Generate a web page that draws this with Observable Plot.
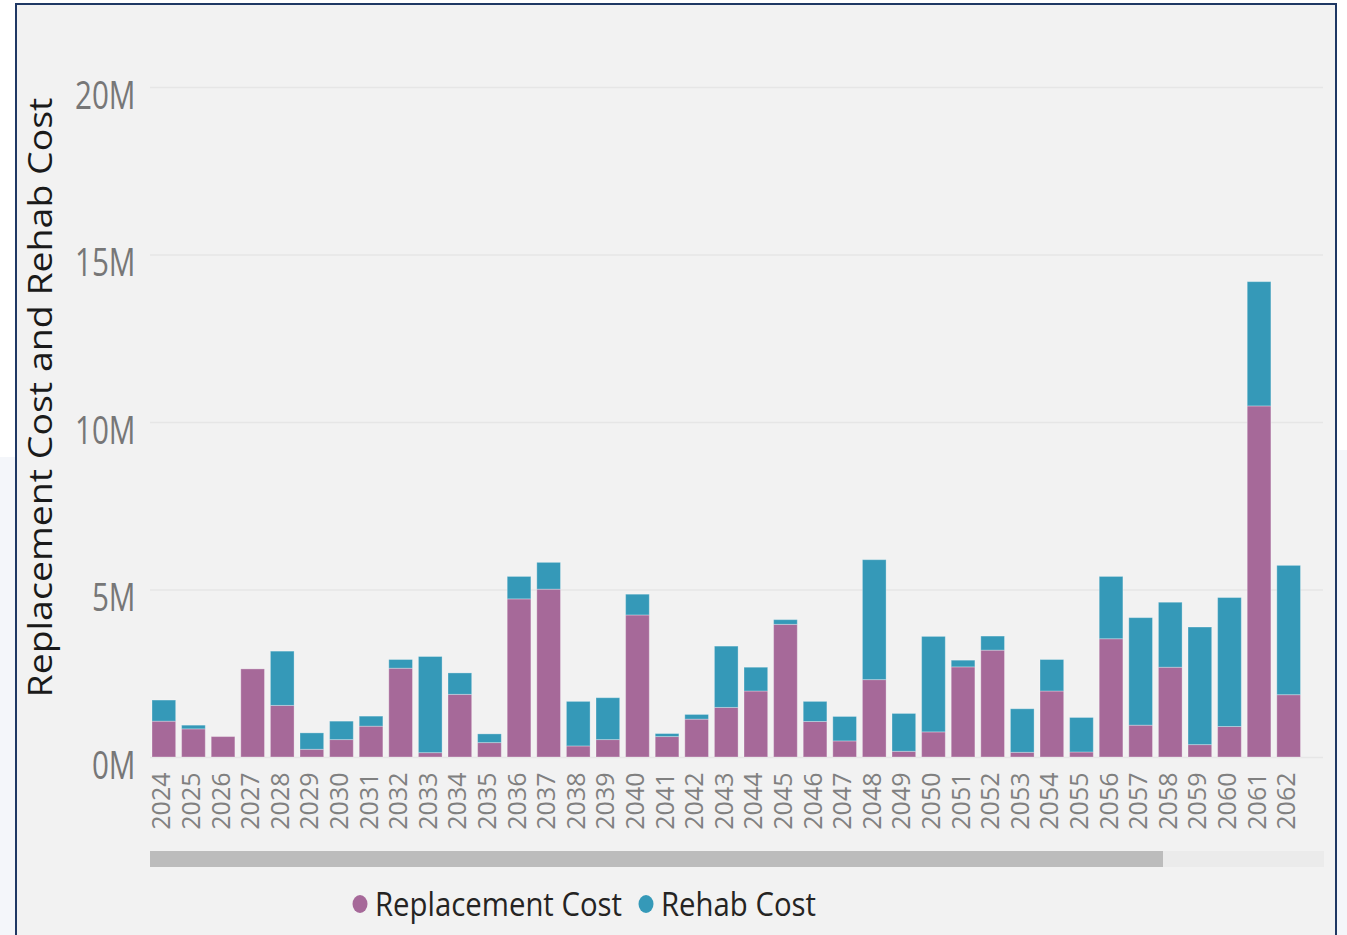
<!DOCTYPE html>
<html>
<head>
<meta charset="utf-8">
<script src="https://cdn.jsdelivr.net/npm/d3@7"></script>
<script src="https://cdn.jsdelivr.net/npm/@observablehq/plot@0.6"></script>
<style>
html, body { margin: 0; padding: 0; width: 1347px; height: 935px; overflow: hidden; background: #ffffff; font-family: 'Open Sans', sans-serif; }
#outL { position: absolute; left: 0; top: 457px; width: 15px; height: 478px; background: #f4f6fa; }
#outR { position: absolute; left: 1337px; top: 450px; width: 10px; height: 485px; background: #f4f6fa; }
#frame { position: absolute; left: 15px; top: 3px; width: 1322px; height: 940px; box-sizing: border-box; border: 2px solid #1f3864; border-bottom: none; background: #f2f2f2; }
#chart { position: absolute; left: 0; top: 0; z-index: 2; }
#track { position: absolute; left: 150px; top: 851px; width: 1174px; height: 16px; background: #ebebeb; z-index: 2; }
#thumb { position: absolute; left: 150px; top: 851px; width: 1013px; height: 16px; background: #bcbcbc; z-index: 3; }
#legend { position: absolute; left: 0; top: 875px; z-index: 3; }
</style>
</head>
<body>
<div id="outL"></div>
<div id="outR"></div>
<div id="frame"></div>
<div id="chart"></div>
<div id="track"></div>
<div id="thumb"></div>
<div id="legend"></div>
<script>
const years = ["2024","2025","2026","2027","2028","2029","2030","2031","2032","2033",
  "2034","2035","2036","2037","2038","2039","2040","2041","2042","2043",
  "2044","2045","2046","2047","2048","2049","2050","2051","2052","2053",
  "2054","2055","2056","2057","2058","2059","2060","2061","2062"];
// values in millions
const replacementCost = [1.07,0.84,0.61,2.63,1.54,0.23,0.52,0.92,2.65,0.13,
  1.87,0.43,4.72,5.01,0.33,0.52,4.24,0.61,1.13,1.48,
  1.97,3.96,1.06,0.48,2.31,0.17,0.75,2.69,3.19,0.14,
  1.97,0.15,3.53,0.95,2.68,0.37,0.91,10.48,1.86];
const rehabCost = [0.63,0.11,0,0,1.62,0.49,0.55,0.30,0.26,2.87,
  0.64,0.26,0.67,0.80,1.33,1.25,0.62,0.09,0.14,1.83,
  0.71,0.14,0.60,0.73,3.58,1.13,2.85,0.20,0.42,1.30,
  0.94,1.03,1.86,3.21,1.94,3.51,3.85,3.71,3.86];
const seriesNames = ["Replacement Cost", "Rehab Cost"];
const seriesColors = ["#a66999", "#3599b8"];
const yTicks = [0, 5e6, 10e6, 15e6, 20e6];
const yTitle = "Replacement Cost and Rehab Cost";

const rows = [
  ...years.map((y, i) => ({year: y, series: seriesNames[0], value: replacementCost[i] * 1e6})),
  ...years.map((y, i) => ({year: y, series: seriesNames[1], value: rehabCost[i] * 1e6}))
];

const chart = Plot.plot({
  width: 1347,
  height: 840,
  marginLeft: 150,
  marginRight: 24,
  marginTop: 87,
  marginBottom: 83,
  style: {background: "transparent", fontFamily: "'Open Sans', sans-serif"},
  x: {type: "band", domain: years, range: [152, 1300.5], paddingInner: 0.2, paddingOuter: 0, round: false, label: null},
  y: {domain: [0, 20e6], label: null},
  color: {domain: seriesNames, range: seriesColors},
  marks: [
    Plot.gridY(yTicks, {stroke: "#e6e6e6", strokeOpacity: 1, strokeWidth: 1.5}),
    Plot.barY(rows, Plot.stackY({x: "year", y: "value", fill: "series", stroke: "#ffffff", strokeOpacity: 0.3, strokeWidth: 1})),
    Plot.axisY(yTicks, {tickSize: 0, tickPadding: 15, fontSize: 39, fill: "#777777", tickFormat: d => (d / 1e6) + "M", dy: 9, label: null}),
    Plot.axisX({tickSize: 0, tickPadding: 15, tickRotate: -90, fontSize: 25, fill: "#808080", dx: -2, label: null}),
    Plot.text([yTitle], {frameAnchor: "left", textAnchor: "middle", text: d => d, rotate: -90, dx: -109, dy: -25, fontSize: 33, fill: "#1a1a1a"})
  ]
});
document.getElementById("chart").append(chart);

// condensed look for y tick labels
chart.querySelectorAll('g[aria-label="y-axis tick label"] text').forEach(t => {
  const L = t.getComputedTextLength();
  t.setAttribute("textLength", L * 0.76);
  t.setAttribute("lengthAdjust", "spacingAndGlyphs");
});
const titleText = chart.querySelector('g[aria-label="text"] text');
if (titleText) {
  titleText.setAttribute("textLength", 600);
  titleText.setAttribute("lengthAdjust", "spacingAndGlyphs");
}

// legend
const legendItems = [
  {name: seriesNames[0], color: seriesColors[0], cx: 360, tx: 375, len: 247},
  {name: seriesNames[1], color: seriesColors[1], cx: 646, tx: 661, len: 155}
];
const lsvg = d3.select("#legend").append("svg").attr("width", 1347).attr("height", 60);
lsvg.selectAll("ellipse").data(legendItems).join("ellipse")
  .attr("cx", d => d.cx).attr("cy", 29).attr("rx", 7.5).attr("ry", 9).attr("fill", d => d.color);
lsvg.selectAll("text").data(legendItems).join("text")
  .attr("x", d => d.tx).attr("y", 41)
  .attr("font-family", "'Open Sans', sans-serif").attr("font-size", 33).attr("fill", "#252423")
  .attr("textLength", d => d.len).attr("lengthAdjust", "spacingAndGlyphs")
  .text(d => d.name);
</script>
</body>
</html>
